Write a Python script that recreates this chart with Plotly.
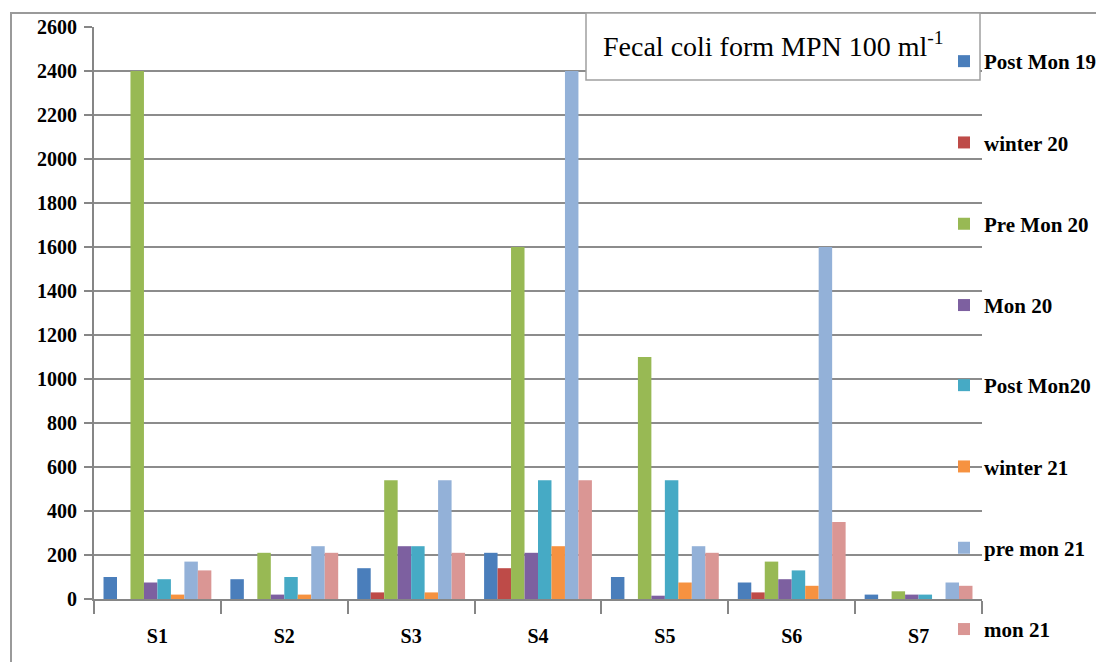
import plotly.graph_objects as go

stations = ["S1", "S2", "S3", "S4", "S5", "S6", "S7"]
series_names = ["Post Mon 19", "winter 20", "Pre Mon 20", "Mon 20",
                "Post Mon20", "winter 21", "pre mon 21", "mon 21"]
post_mon_19 = [100, 90, 140, 210, 100, 75, 20]
winter_20 = [0, 0, 30, 140, 0, 30, 0]
pre_mon_20 = [2400, 210, 540, 1600, 1100, 170, 35]
mon_20 = [75, 20, 240, 210, 15, 90, 20]
post_mon_20 = [90, 100, 240, 540, 540, 130, 20]
winter_21 = [20, 20, 30, 240, 75, 60, 0]
pre_mon_21 = [170, 240, 540, 2400, 240, 1600, 75]
mon_21 = [130, 210, 210, 540, 210, 350, 60]
values = [post_mon_19, winter_20, pre_mon_20, mon_20,
          post_mon_20, winter_21, pre_mon_21, mon_21]
colors = ["#4A7EBB", "#BE4B48", "#98B954", "#7D60A0",
          "#46AAC5", "#F69240", "#93B1D8", "#DA9694"]
y_ticks = list(range(0, 2601, 200))

# page has an 8px body margin; figure coords = page coords - 8
OFF = 8
W, H = 1104 - OFF, 662 - OFF
# plot area in page pixels
L, R, T, B = 94, 982, 27, 599
def px(x):
    return (x - L) / (R - L)
def py(y):
    return (B - y) / (B - T)

serif = "Liberation Serif"
fig = go.Figure()
for i, (name, vals, col) in enumerate(zip(series_names, values, colors)):
    fig.add_trace(go.Bar(
        x=stations, y=vals, name=name, legendgroup=name,
        legend="legend" if i < 4 else "legend2",
        marker=dict(color=col, line=dict(width=0)),
    ))

legend_common = dict(
    xanchor="left", yanchor="top", bgcolor="rgba(0,0,0,0)", tracegroupgap=51,
    font=dict(family=serif, size=21, weight="bold", color="black"),
    traceorder="grouped", itemwidth=30,
)

fig.update_layout(
    width=W, height=H,
    margin=dict(l=L - OFF, r=W - (R - OFF), t=T - OFF, b=H - (B - OFF),
                autoexpand=False),
    paper_bgcolor="white", plot_bgcolor="white",
    barmode="group", bargap=0.15, bargroupgap=0,
    font=dict(family=serif, color="black"),
    showlegend=True,
    legend=dict(x=px(944), y=py(41), **legend_common),
    legend2=dict(x=px(944), y=py(365), **legend_common),
    xaxis=dict(
        showgrid=False, showline=True, linecolor="#868686", linewidth=2,
        ticks="outside", tickson="boundaries", ticklen=13, tickcolor="#868686",
        tickwidth=2, ticklabelstandoff=18,
        tickfont=dict(family=serif, size=20, weight="bold", color="black"),
    ),
    yaxis=dict(
        range=[0, 2600], tickvals=y_ticks, showgrid=True, gridcolor="#8C8C8C",
        gridwidth=2, zeroline=False, showline=True, linecolor="#868686",
        linewidth=2, ticks="outside", ticklen=8, tickcolor="#868686", tickwidth=2,
        ticklabelstandoff=3,
        tickfont=dict(family=serif, size=20, weight="bold", color="black"),
    ),
    shapes=[
        dict(type="rect", xref="paper", yref="paper",
             x0=px(11), x1=px(1112), y0=py(672), y1=py(13),
             line=dict(color="#9A9A9A", width=2), fillcolor="rgba(0,0,0,0)",
             layer="below"),
        dict(type="rect", xref="paper", yref="paper",
             x0=px(586), x1=px(980), y0=py(80), y1=py(13),
             line=dict(color="#A0A0A0", width=1.5), fillcolor="white",
             layer="above"),
    ],
    annotations=[
        dict(text="Fecal coli form MPN 100 ml<sup>-1</sup>", xref="paper",
             yref="paper", x=px(601), y=py(45), xanchor="left",
             yanchor="middle", showarrow=False,
             font=dict(family=serif, size=28, color="black")),
    ],
)

fig.write_html("out.html")
